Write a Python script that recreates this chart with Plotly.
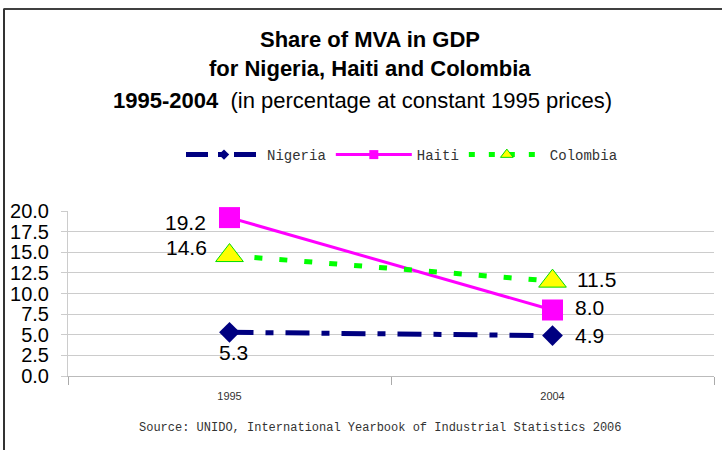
import plotly.graph_objects as go

years = ["1995", "2004"]
nigeria = [5.3, 4.9]
haiti = [19.2, 8.0]
colombia = [14.6, 11.5]
y_ticks = [0, 2.5, 5, 7.5, 10, 12.5, 15, 17.5, 20]

NAVY, MAGENTA, GREEN, YELLOW = "#000080", "#FF00FF", "#00FF00", "#FFFF00"
ARIAL = "Arial, Liberation Sans"
MONO = "Liberation Mono, Courier New"

PB, PH, PW = 376, 165, 646  # plot bottom px, plot height px, plot width px

fig = go.Figure()
# data traces
fig.add_trace(go.Scatter(
    x=years, y=nigeria, name="Nigeria", mode="lines+markers", showlegend=False,
    line=dict(color=NAVY, width=5, dash="24px,12px,8px,12px"),
    marker=dict(symbol="diamond", size=16, color=NAVY), cliponaxis=False))
fig.add_trace(go.Scatter(
    x=years, y=haiti, name="Haiti", mode="lines+markers", showlegend=False,
    line=dict(color=MAGENTA, width=3),
    marker=dict(symbol="square", size=21, color=MAGENTA), cliponaxis=False))
fig.add_trace(go.Scatter(
    x=years, y=colombia, name="Colombia", mode="lines+markers", showlegend=False,
    line=dict(color=GREEN, width=5, dash="8px,17px"),
    marker=dict(symbol="triangle-up", size=24, color=YELLOW,
                line=dict(color="#00DD00", width=1)), cliponaxis=False))

# legend-only entries (smaller markers like the reference legend)
fig.add_trace(go.Scatter(x=[None], y=[None], name="Nigeria", mode="lines+markers",
    line=dict(color=NAVY, width=5, dash="22px,10px,6px,10px"),
    marker=dict(symbol="diamond", size=8, color=NAVY)))
fig.add_trace(go.Scatter(x=[None], y=[None], name="Haiti", mode="lines+markers",
    line=dict(color=MAGENTA, width=3),
    marker=dict(symbol="square", size=9, color=MAGENTA)))
fig.add_trace(go.Scatter(x=[None], y=[None], name="Colombia", mode="lines+markers",
    line=dict(color=GREEN, width=5, dash="6px,14px"),
    marker=dict(symbol="triangle-up", size=11, color=YELLOW,
                line=dict(color="#00DD00", width=1))))

# data labels: anchored on the data points (category index on x)
labels = []
specs = [
    (nigeria, [("center", 4, -20), ("left", 20, 0)]),
    (haiti, [("right", -22, -5), ("left", 20, 3)]),
    (colombia, [("right", -21, 8), ("left", 22, 2)]),
]
for vals, pos in specs:
    for i, (v, (xa, xs, ys)) in enumerate(zip(vals, pos)):
        labels.append(dict(x=i, y=v, xref="x", yref="y", text=f"{v:.1f}",
                           showarrow=False, xanchor=xa, yanchor="middle",
                           xshift=xs, yshift=ys,
                           font=dict(family=ARIAL, size=21, color="black")))

titles = [
    dict(text="<b>Share of MVA in GDP</b>", xref="paper", yref="paper",
         x=0.4675, y=(PB - 39) / PH, showarrow=False, yanchor="middle",
         font=dict(family=ARIAL, size=22, color="black")),
    dict(text="<b>for Nigeria, Haiti and Colombia</b>", xref="paper", yref="paper",
         x=0.4675, y=(PB - 68) / PH, showarrow=False, yanchor="middle",
         font=dict(family=ARIAL, size=22, color="black")),
    dict(text="<b>1995-2004</b>  (in percentage at constant 1995 prices)", xref="paper", yref="paper",
         x=0.4675 - 8 / PW, y=(PB - 100) / PH, showarrow=False, yanchor="middle",
         font=dict(family=ARIAL, size=22, color="black")),
    dict(text="Source: UNIDO, International Yearbook of Industrial Statistics 2006",
         xref="paper", yref="paper", x=0.483, y=(PB - 428) / PH, showarrow=False,
         yanchor="middle", font=dict(family=MONO, size=12, color="#333")),
]

fig.update_layout(
    width=722, height=450,
    margin=dict(l=68, r=8, t=211, b=74, autoexpand=False),
    paper_bgcolor="white", plot_bgcolor="white",
    showlegend=True,
    legend=dict(orientation="h", x=(402 - 68) / PW, xanchor="center", y=(PB - 155) / PH,
                yanchor="middle",
                font=dict(family=MONO, size=14, color="#333"),
                itemwidth=76, tracegroupgap=0, bgcolor="rgba(0,0,0,0)"),
    xaxis=dict(type="category", range=[-0.5, 1.5], showgrid=False,
               ticks="outside", tickson="boundaries", ticklen=8, tickcolor="#AAA",
               showline=True, linecolor="#BBB", linewidth=1, ticklabelstandoff=10,
               tickfont=dict(family=ARIAL, size=11, color="#333")),
    yaxis=dict(range=[0, 20], tickvals=y_ticks, ticktext=[f"{v:.1f}" for v in y_ticks],
               showgrid=True, gridcolor="#CCCCCC", gridwidth=1, zeroline=False,
               showline=True, linecolor="#CCCCCC", linewidth=1,
               ticks="outside", ticklen=6, tickcolor="#CCCCCC", ticklabelstandoff=8,
               tickfont=dict(family=ARIAL, size=20, color="black")),
    font=dict(family=ARIAL),
    shapes=[
        dict(type="line", xref="paper", yref="paper", x0=-0.1, x1=1.2,
             y0=(PB - 9) / PH, y1=(PB - 9) / PH, line=dict(color="black", width=1.5)),
        dict(type="line", xref="paper", yref="paper", x0=(4 - 68) / PW, x1=(4 - 68) / PW,
             y0=-0.6, y1=(PB - 9) / PH, line=dict(color="#333", width=2)),
    ],
    annotations=labels + titles,
)

fig.write_html("out.html", config={"displayModeBar": False},
               post_script="document.body.style.margin='0';")
